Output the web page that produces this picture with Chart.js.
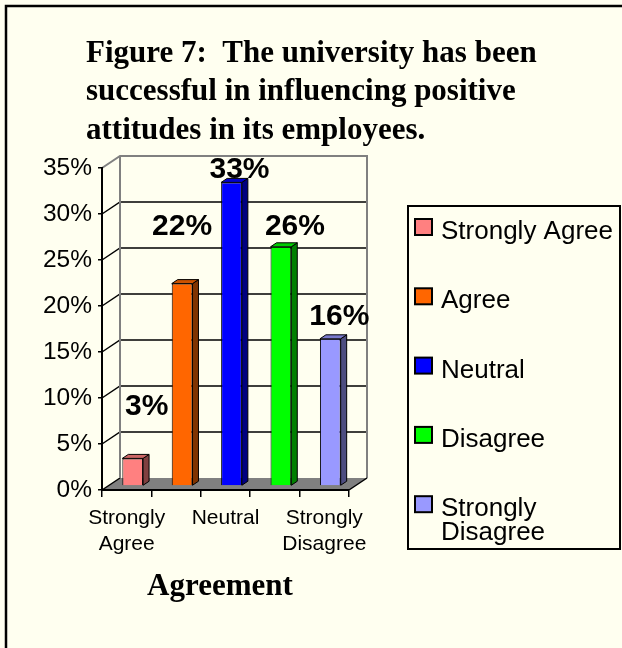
<!DOCTYPE html>
<html>
<head>
<meta charset="utf-8">
<script src="https://cdn.jsdelivr.net/npm/chart.js@4.4.1/dist/chart.umd.min.js"></script>
<style>
  body { margin: 0; background: #fffff0; }
  canvas { display: block; }
</style>
</head>
<body>
<canvas id="agreementChart" width="622" height="648"></canvas>
<script>
const titleLines = ["Figure 7:  The university has been", "successful in influencing positive", "attitudes in its employees."];
const axisTitle = "Agreement";
const categories = ["Strongly Agree", "Agree", "Neutral", "Disagree", "Strongly Disagree"];
const percents = [3, 22, 33, 26, 16];
const yMax = 35;
const yStep = 5;

// face colours: front / side / top
const frontColors = ["#ff8080", "#ff6600", "#0000ff", "#00ff00", "#9999ff"];
const sideColors = ["#804040", "#803300", "#000080", "#008000", "#4d4d80"];
const topColors = ["#cc6666", "#cc5200", "#0000cc", "#00cc00", "#7a7acc"];

const DX = 18, DY = 12;                 // depth of the floor / back wall
const BX = DX / 3, BY = DY / 3;         // bars stand a third of the way back
// where each value label sits relative to the top of its bar
const labelNudge = [[14, -43], [0, -49], [8, -4], [14, -12], [9, -14]];

const SANS = "'Liberation Sans', Arial, sans-serif";
const SERIF = "'Liberation Serif', 'Times New Roman', serif";

Chart.defaults.font.family = SANS;
Chart.defaults.color = "#000";

const depthPlugin = {
  id: "depth",
  beforeDraw(chart) {
    const { ctx, chartArea: a, scales: { y } } = chart;
    ctx.save();
    ctx.fillStyle = "#fffff0";
    ctx.fillRect(0, 0, chart.width, chart.height);

    // page frame
    ctx.strokeStyle = "#000";
    ctx.lineWidth = 2.5;
    ctx.strokeRect(6, 6, chart.width + 20, chart.height + 20);

    // floor
    ctx.fillStyle = "#808080";
    ctx.beginPath();
    ctx.moveTo(a.left, a.bottom);
    ctx.lineTo(a.right, a.bottom);
    ctx.lineTo(a.right + DX, a.bottom - DY);
    ctx.lineTo(a.left + DX, a.bottom - DY);
    ctx.closePath();
    ctx.fill();

    // gridlines across the side wall and back wall
    ctx.strokeStyle = "#000";
    ctx.lineWidth = 1.5;
    y.ticks.forEach(t => {
      if (t.value >= y.max) return;
      const py = y.getPixelForValue(t.value);
      ctx.beginPath();
      ctx.moveTo(a.left, py);
      ctx.lineTo(a.left + DX, py - DY);
      if (t.value > 0) ctx.lineTo(a.right + DX, py - DY);
      ctx.stroke();
    });

    // wall outline
    ctx.strokeStyle = "#808080";
    ctx.lineWidth = 2;
    ctx.beginPath();
    ctx.moveTo(a.left, a.top);
    ctx.lineTo(a.left + DX, a.top - DY);
    ctx.lineTo(a.right + DX, a.top - DY);
    ctx.lineTo(a.right + DX, a.bottom - DY);
    ctx.moveTo(a.left + DX, a.top - DY);
    ctx.lineTo(a.left + DX, a.bottom - DY);
    ctx.stroke();

    // front right edge of the floor
    ctx.strokeStyle = "#000";
    ctx.lineWidth = 1.5;
    ctx.beginPath();
    ctx.moveTo(a.right, a.bottom);
    ctx.lineTo(a.right + DX, a.bottom - DY);
    ctx.stroke();
    ctx.restore();
  },
  beforeDatasetsDraw(chart) {
    chart.ctx.save();
    chart.ctx.translate(BX, -BY);
  },
  afterDatasetsDraw(chart) {
    const ctx = chart.ctx;
    ctx.restore();
    const meta = chart.getDatasetMeta(0);
    ctx.save();
    ctx.lineWidth = 1;
    ctx.strokeStyle = "#000";
    ctx.lineJoin = "round";
    meta.data.forEach((bar, i) => {
      const { x, y, base, width } = bar.getProps(["x", "y", "base", "width"], true);
      const l = x - width / 2 + BX, r = x + width / 2 + BX;
      const t = y - BY, b = base - BY;
      // side face
      ctx.fillStyle = sideColors[i];
      ctx.beginPath();
      ctx.moveTo(r, t);
      ctx.lineTo(r + BX, t - BY);
      ctx.lineTo(r + BX, b - BY);
      ctx.lineTo(r, b);
      ctx.closePath();
      ctx.fill();
      ctx.stroke();
      // top face
      ctx.fillStyle = topColors[i];
      ctx.beginPath();
      ctx.moveTo(l, t);
      ctx.lineTo(l + BX, t - BY);
      ctx.lineTo(r + BX, t - BY);
      ctx.lineTo(r, t);
      ctx.closePath();
      ctx.fill();
      ctx.stroke();
    });

    // value labels
    ctx.fillStyle = "#000";
    ctx.font = "bold 30px " + SANS;
    ctx.textAlign = "center";
    ctx.textBaseline = "alphabetic";
    meta.data.forEach((bar, i) => {
      const { x, y } = bar.getProps(["x", "y"], true);
      const [nx, ny] = labelNudge[i];
      ctx.fillText(percents[i] + "%", x + BX + nx, y - BY + ny);
    });
    ctx.restore();
  },
  afterDraw(chart) {
    const ctx = chart.ctx;
    ctx.save();
    ctx.fillStyle = "#000";

    // chart title
    ctx.font = "bold 31px " + SERIF;
    ctx.textAlign = "left";
    ctx.textBaseline = "alphabetic";
    titleLines.forEach((line, i) => ctx.fillText(line, 86, 62 + i * 38.3));

    // category axis title
    ctx.textAlign = "center";
    ctx.fillText(axisTitle, 220, 595);

    // legend
    const box = { left: 408, top: 206, right: 620, bottom: 549 };
    ctx.lineWidth = 2;
    ctx.strokeStyle = "#000";
    ctx.strokeRect(box.left, box.top, box.right - box.left, box.bottom - box.top);
    ctx.font = "26px " + SANS;
    ctx.textAlign = "left";
    const textX = 441;
    const room = box.right - textX - 2;
    categories.forEach((name, i) => {
      const base = 239 + i * 69.3;
      ctx.fillStyle = frontColors[i];
      ctx.fillRect(415, base - 20, 17, 16);
      ctx.strokeRect(415, base - 20, 17, 16);
      ctx.fillStyle = "#000";
      const lines = ctx.measureText(name).width > room ? name.split(" ") : [name];
      lines.forEach((ln, k) => ctx.fillText(ln, textX, base + k * 24));
    });
    ctx.restore();
  }
};

new Chart(document.getElementById("agreementChart"), {
  type: "bar",
  data: {
    labels: categories,
    datasets: [{
      data: percents,
      backgroundColor: frontColors,
      borderColor: "#000",
      borderWidth: 1,
      categoryPercentage: 1,
      barPercentage: 0.42
    }]
  },
  options: {
    responsive: false,
    animation: false,
    events: [],
    layout: { padding: { left: 0, top: 168, right: 273, bottom: 68 } },
    plugins: { legend: { display: false }, tooltip: { enabled: false } },
    scales: {
      x: {
        grid: { drawOnChartArea: false, tickLength: 7, color: "#000", lineWidth: 1.5 },
        border: { color: "#000", width: 2 },
        ticks: {
          autoSkip: false,
          maxRotation: 0,
          padding: 9,
          font: { size: 21, lineHeight: 1.2 },
          callback: (v, i) => (i % 2 ? "" : categories[i].split(" "))
        },
        afterFit(s) { s.height = 90; }
      },
      y: {
        min: 0,
        max: yMax,
        grid: { drawOnChartArea: false, tickLength: 4, color: "#000", lineWidth: 1.5 },
        border: { color: "#000", width: 2 },
        ticks: { stepSize: yStep, padding: 6, font: { size: 24.5 }, callback: v => v + "%" },
        afterFit(s) { s.width = 102; }
      }
    }
  },
  plugins: [depthPlugin]
});
</script>
</body>
</html>
